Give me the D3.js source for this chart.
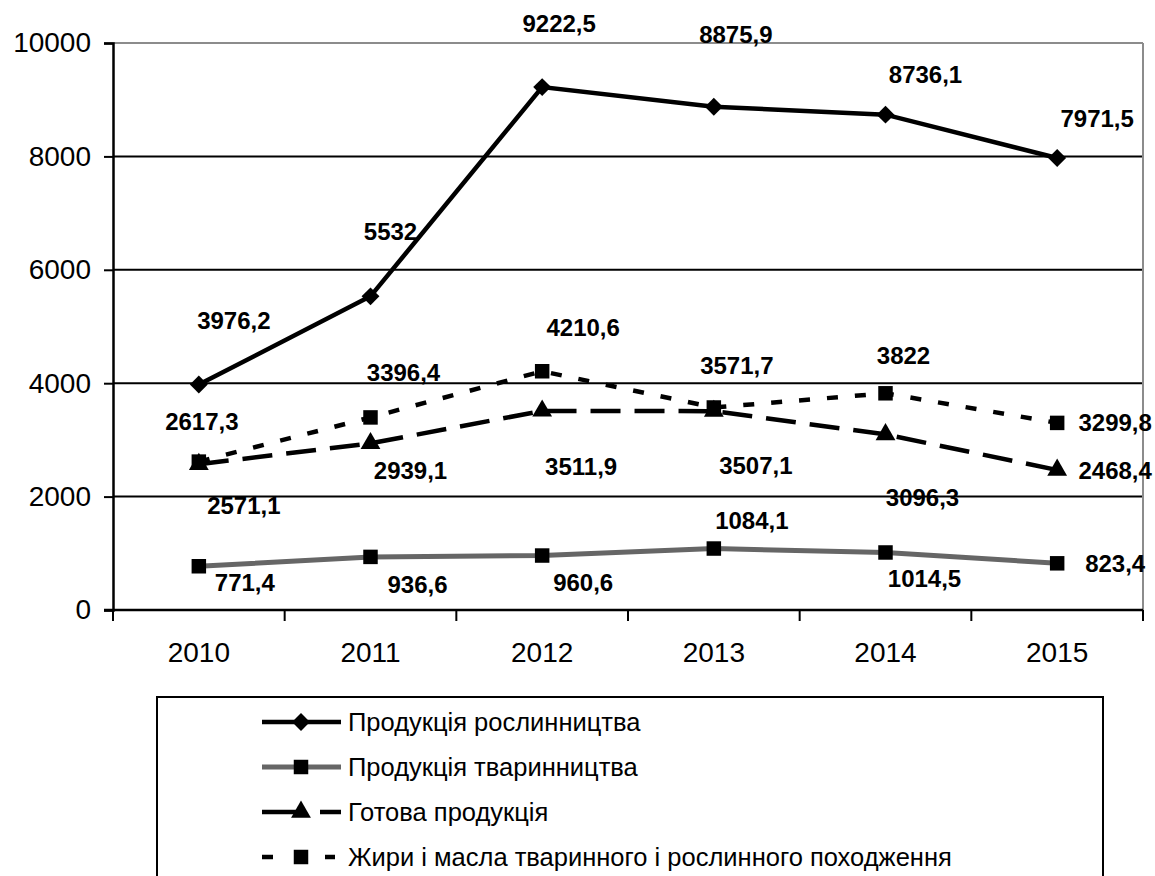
<!DOCTYPE html>
<html>
<head>
<meta charset="utf-8">
<script src="https://cdn.jsdelivr.net/npm/d3@7"></script>
<style>
  body { margin: 0; background: #fff; }
  svg { display: block; font-family: "Liberation Sans", Arial, sans-serif; }
</style>
</head>
<body>
<svg id="chart" width="1155" height="876"></svg>
<script>
// data
const years = ["2010", "2011", "2012", "2013", "2014", "2015"]
const crops = [3976.2, 5532, 9222.5, 8875.9, 8736.1, 7971.5]
const livestock = [771.4, 936.6, 960.6, 1084.1, 1014.5, 823.4]
const finished = [2571.1, 2939.1, 3511.9, 3507.1, 3096.3, 2468.4]
const fats = [2617.3, 3396.4, 4210.6, 3571.7, 3822, 3299.8]
const seriesNames = [
  "Продукція рослинництва",
  "Продукція тваринництва",
  "Готова продукція",
  "Жири і масла тваринного і рослинного походження"
]
const yTicks = [0, 2000, 4000, 6000, 8000, 10000]

// label offsets (px from the point), hand placed like the original
const cropsLbl = [[35, -64], [20, -65], [17, -64], [22, -72], [40, -40], [40, -40]]
const livestockLbl = [[46, 16], [47, 28], [41, 27], [38, -28], [39, 26], [58, 0]]
const finishedLbl = [[45, 41], [40, 27], [39, 56], [42, 54], [37, 63], [58, 0]]
const fatsLbl = [[3, -40], [33, -45], [41, -44], [23, -42], [18, -38], [58, 0]]

const fmt = v => String(v).replace(".", ",")

const plotL = 113, plotR = 1143, plotT = 43, plotB = 610
const svg = d3.select("#chart")

const x = d3.scaleBand().domain(years).range([plotL, plotR])
const y = d3.scaleLinear().domain([0, 10000]).range([plotB, plotT])
const cx = d => x(d) + x.bandwidth() / 2

// gridlines
svg.append("g")
  .selectAll("line")
  .data(yTicks.filter(t => t > 0))
  .enter().append("line")
  .attr("x1", plotL).attr("x2", plotR)
  .attr("y1", d => y(d)).attr("y2", d => y(d))
  .attr("stroke", d => d === 10000 ? "#8c8c8c" : "#000")
  .attr("stroke-width", 2)

// right border
svg.append("line")
  .attr("x1", plotR).attr("x2", plotR)
  .attr("y1", plotT).attr("y2", plotB)
  .attr("stroke", "#8c8c8c").attr("stroke-width", 2)

// y axis
const yAxis = svg.append("g")
  .attr("transform", `translate(${plotL},0)`)
  .call(d3.axisLeft(y).tickValues(yTicks).tickSize(9).tickPadding(13).tickFormat(d => d))
yAxis.select(".domain").attr("stroke", "#000").attr("stroke-width", 2.5)
yAxis.selectAll(".tick line").attr("stroke", "#000").attr("stroke-width", 2)
yAxis.selectAll("text").attr("font-size", 28).attr("fill", "#000").attr("font-family", "Liberation Sans, Arial")

// x axis with ticks at band edges
const xAxisG = svg.append("g").attr("transform", `translate(0,${plotB})`)
xAxisG.append("line")
  .attr("x1", plotL - 9).attr("x2", plotR)
  .attr("stroke", "#000").attr("stroke-width", 2.5)
const edges = years.map(d => x(d)).concat([plotR])
xAxisG.selectAll(".edge")
  .data(edges)
  .enter().append("line")
  .attr("x1", d => d).attr("x2", d => d)
  .attr("y1", 0).attr("y2", 11)
  .attr("stroke", "#000").attr("stroke-width", 2)
xAxisG.selectAll(".lab")
  .data(years)
  .enter().append("text")
  .attr("x", d => cx(d))
  .attr("y", 42)
  .attr("text-anchor", "middle")
  .attr("dominant-baseline", "central")
  .attr("font-size", 28)
  .text(d => d)

const lineGen = d3.line().x((d, i) => cx(years[i])).y(d => y(d))

const series = [
  {name: seriesNames[0], values: crops, lbl: cropsLbl, color: "#000", width: 4.5, dash: null, legendDash: null, marker: "diamond"},
  {name: seriesNames[1], values: livestock, lbl: livestockLbl, color: "#666", width: 5, dash: null, legendDash: null, marker: "square"},
  {name: seriesNames[2], values: finished, lbl: finishedLbl, color: "#000", width: 4.5, dash: "30,14", legendDash: "34,24,40", marker: "triangle"},
  {name: seriesNames[3], values: fats, lbl: fatsLbl, color: "#000", width: 4.5, dash: "11,17", legendDash: "11,52,10,40", marker: "square"}
]

function markerPath(type) {
  if (type === "diamond") return d3.symbol(d3.symbolSquare, 160)()
  if (type === "triangle") return d3.symbol(d3.symbolTriangle, 170)()
  return d3.symbol(d3.symbolSquare, 210)()
}
function markerRotate(type) { return type === "diamond" ? " rotate(45)" : "" }

// draw order: livestock, finished, fats, crops
const order = [1, 2, 3, 0]
order.forEach(k => {
  const s = series[k]
  const g = svg.append("g")
  g.append("path")
    .datum(s.values)
    .attr("d", lineGen)
    .attr("fill", "none")
    .attr("stroke", s.color)
    .attr("stroke-width", s.width)
    .attr("stroke-dasharray", s.dash)
  g.selectAll("path.m")
    .data(s.values)
    .enter().append("path")
    .attr("class", "m")
    .attr("d", markerPath(s.marker))
    .attr("transform", (d, i) => `translate(${cx(years[i])},${y(d)})` + markerRotate(s.marker))
    .attr("fill", "#000")
})

// data labels
series.forEach(s => {
  svg.append("g")
    .selectAll("text")
    .data(s.values)
    .enter().append("text")
    .attr("x", (d, i) => cx(years[i]) + s.lbl[i][0])
    .attr("y", (d, i) => y(d) + s.lbl[i][1])
    .attr("text-anchor", "middle")
    .attr("dominant-baseline", "central")
    .attr("font-size", 24)
    .attr("font-weight", "bold")
    .text(d => fmt(d))
})

// legend
const legend = svg.append("g")
legend.append("rect")
  .attr("x", 157).attr("y", 697)
  .attr("width", 946).attr("height", 220)
  .attr("fill", "#fff")
  .attr("stroke", "#000").attr("stroke-width", 2)

const rows = legend.selectAll("g.row")
  .data(series)
  .enter().append("g")
  .attr("class", "row")
  .attr("transform", (d, i) => `translate(0,${722 + i * 45})`)
rows.append("line")
  .attr("x1", 262).attr("x2", 341)
  .attr("stroke", d => d.color)
  .attr("stroke-width", d => d.width)
  .attr("stroke-dasharray", d => d.legendDash)
rows.append("path")
  .attr("d", d => markerPath(d.marker))
  .attr("transform", d => "translate(301,0)" + markerRotate(d.marker))
  .attr("fill", "#000")
rows.append("text")
  .attr("x", 348)
  .attr("dominant-baseline", "central")
  .attr("font-size", 25.5)
  .text(d => d.name)
</script>
</body>
</html>
